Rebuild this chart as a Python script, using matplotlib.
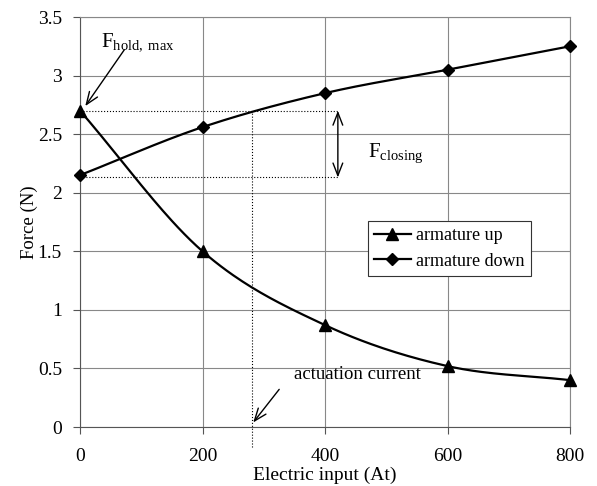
import numpy as np
import matplotlib
matplotlib.use("Agg")
import matplotlib.pyplot as plt

plt.rcParams['font.family'] = ['Liberation Serif', 'DejaVu Serif']
plt.rcParams['mathtext.fontset'] = 'custom'
plt.rcParams['mathtext.rm'] = 'Liberation Serif'

x_vals = [0, 200, 400, 600, 800]
armature_up = [2.70, 1.50, 0.87, 0.52, 0.40]
armature_down = [2.15, 2.56, 2.85, 3.05, 3.25]
x_ticks = [0, 200, 400, 600, 800]
y_ticks = [0, 0.5, 1, 1.5, 2, 2.5, 3, 3.5]
y_tick_labels = ['0', '0.5', '1', '1.5', '2', '2.5', '3', '3.5']
f_hold = 2.70
f_low = 2.13
actuation_x = 280
closing_x = 421


def smooth(xs, ys, n=40):
    xs = np.asarray(xs, float); ys = np.asarray(ys, float)
    px = np.concatenate([[2 * xs[0] - xs[1]], xs, [2 * xs[-1] - xs[-2]]])
    py = np.concatenate([[2 * ys[0] - ys[1]], ys, [2 * ys[-1] - ys[-2]]])
    ox, oy = [], []
    for i in range(1, len(px) - 2):
        t = np.linspace(0, 1, n, endpoint=False)
        for p, out in ((px, ox), (py, oy)):
            p0, p1, p2, p3 = p[i - 1], p[i], p[i + 1], p[i + 2]
            out.extend(0.5 * ((2 * p1) + (-p0 + p2) * t + (2 * p0 - 5 * p1 + 4 * p2 - p3) * t ** 2
                              + (-p0 + 3 * p1 - 3 * p2 + p3) * t ** 3))
    ox.append(xs[-1]); oy.append(ys[-1])
    return np.array(ox), np.array(oy)


fig = plt.figure(figsize=(5.97, 4.86), dpi=100)
ax = fig.add_axes([80 / 597, 59 / 486, 490 / 597, 410 / 486])

ax.set_xlim(0, 800)
ax.set_ylim(0, 3.5)
ax.set_xticks(x_ticks)
ax.set_yticks(y_ticks)
ax.set_yticklabels(y_tick_labels)
ax.grid(True, color='#888888', linewidth=0.8)
ax.set_axisbelow(True)
for s in ['top', 'right']:
    ax.spines[s].set_color('#888888')
    ax.spines[s].set_linewidth(0.8)
for s in ['left', 'bottom']:
    ax.spines[s].set_color('#555555')
ax.tick_params(direction='out', length=5, labelsize=14, color='#555555')
ax.tick_params(axis='x', pad=10)
ax.tick_params(axis='y', pad=8)

# dotted guide lines
ax.plot([0, closing_x], [f_hold, f_hold], color='black', linestyle=':', linewidth=0.8, clip_on=False)
ax.plot([0, closing_x], [f_low, f_low], color='black', linestyle=':', linewidth=0.8, clip_on=False)
ax.plot([actuation_x, actuation_x], [-0.17, f_hold], color='black', linestyle=':', linewidth=0.8, clip_on=False)

sx, sy = smooth(x_vals, armature_up)
ax.plot(sx, sy, color='black', linewidth=1.6, clip_on=False)
ax.plot(x_vals, armature_up, linestyle='none', marker='^', color='black', markersize=8, clip_on=False, zorder=5)
sx, sy = smooth(x_vals, armature_down)
ax.plot(sx, sy, color='black', linewidth=1.6, clip_on=False)
ax.plot(x_vals, armature_down, linestyle='none', marker='D', color='black', markersize=6.5, clip_on=False, zorder=5)

# legend handles
ax.plot([], [], color='black', linewidth=1.6, marker='^', markersize=8, label='armature up')
ax.plot([], [], color='black', linewidth=1.6, marker='D', markersize=6.5, label='armature down')
handles, labels = ax.get_legend_handles_labels()
leg = ax.legend(handles, labels, loc='upper left', bbox_to_anchor=(0.588, 0.502), fontsize=13,
                frameon=True, fancybox=False, edgecolor='#333333', framealpha=1,
                handlelength=2.0, borderpad=0.35, labelspacing=0.45, handletextpad=0.3,
                borderaxespad=0)
leg.get_frame().set_linewidth(0.8)

arrow = dict(arrowstyle='->,head_length=0.9,head_width=0.35', color='black', linewidth=1.0)
ax.annotate('', xy=(6, 2.72), xytext=(75, 3.24), arrowprops=arrow)
ax.text(35, 3.28, r'F$_{\mathrm{hold,\,max}}$', fontsize=15, va='center', ha='left')

ax.annotate('', xy=(closing_x, f_hold), xytext=(closing_x, f_low),
            arrowprops=dict(arrowstyle='<->,head_length=0.9,head_width=0.35', color='black', linewidth=1.0,
                            shrinkA=0, shrinkB=0))
ax.text(470, 2.33, r'F$_{\mathrm{closing}}$', fontsize=15, va='center', ha='left')

ax.annotate('', xy=(actuation_x, 0.02), xytext=(328, 0.34), arrowprops=arrow)
ax.text(350, 0.45, 'actuation current', fontsize=13.5, va='center', ha='left')

ax.set_xlabel('Electric input (At)', fontsize=14, labelpad=1)
ax.set_ylabel('Force (N)', fontsize=13.5, labelpad=0)

fig.savefig('out.png', dpi=100)
